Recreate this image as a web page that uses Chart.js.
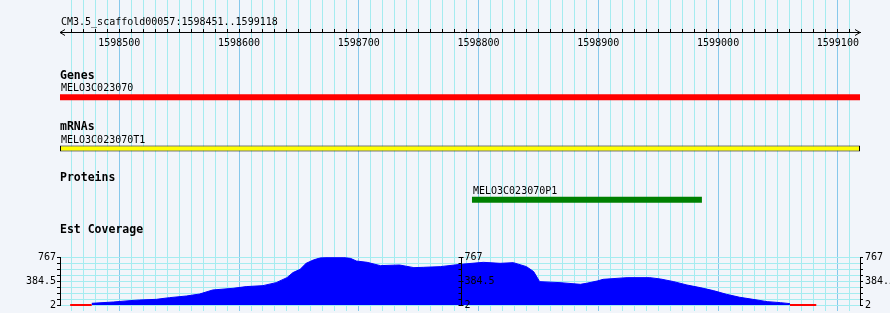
<!DOCTYPE html>
<html>

<head>
  <meta charset="UTF-8">
  <script src="https://cdn.jsdelivr.net/npm/chart.js"></script>
  <title>MELO3C023070</title>
  <style>
    body { margin: 0; background: rgb(242, 245, 250); }
    canvas { display: block; }
  </style>
</head>

<body>
  <canvas id="browser" width="890" height="313"></canvas>
  <script>
    // region shown
    const refName = 'CM3.5_scaffold00057';
    const regionStart = 1598451;
    const regionEnd = 1599118;

    // tracks
    const trackTitles = ['Genes', 'mRNAs', 'Proteins', 'Est Coverage'];
    const featureNames = ['MELO3C023070', 'MELO3C023070T1', 'MELO3C023070P1'];
    const featureStarts = [1598451, 1598451, 1598795];
    const featureEnds = [1599118, 1599118, 1598986];
    const featureColors = ['#ff0000', '#ffff00', '#008000'];

    // est coverage
    const covPos = [1598477, 1598495, 1598509, 1598517, 1598531, 1598542, 1598556, 1598567, 1598578, 1598595,
      1598606, 1598620, 1598631, 1598640, 1598645, 1598651, 1598656, 1598662, 1598668, 1598676,
      1598687, 1598693, 1598698, 1598707, 1598718, 1598734, 1598746, 1598754, 1598768, 1598785,
      1598804, 1598818, 1598829, 1598840, 1598846, 1598851, 1598868, 1598885, 1598890, 1598899,
      1598904, 1598924, 1598943, 1598952, 1598963, 1598974, 1598985, 1598996, 1599007, 1599018,
      1599029, 1599041, 1599052, 1599060];
    const covVal = [29, 50, 72, 82, 93, 120, 146, 178, 243, 270,
      297, 313, 361, 441, 522, 575, 671, 724, 760, 767,
      767, 751, 708, 687, 634, 644, 602, 607, 618, 655,
      687, 671, 682, 618, 538, 377, 361, 334, 350, 387,
      414, 441, 441, 419, 377, 323, 281, 233, 174, 126,
      93, 56, 40, 24];
    // stretches with zero coverage (start, end)
    const zeroStarts = [1598459, 1599060];
    const zeroEnds = [1598477, 1599082];

    const covTicks = [2, 97.625, 193.25, 288.875, 384.5, 480.125, 575.75, 671.375, 767];
    const covTickLabels = [2, 384.5, 767];
    const midAxisPos = 1598785;

    const minorGrid = 'rgb(165, 236, 240)';
    const majorGrid = 'rgb(135, 200, 235)';
    const mono = 'DejaVu Sans Mono';

    Chart.defaults.font.family = mono;
    Chart.defaults.font.size = 10;
    Chart.defaults.color = '#000';

    const gridColor = ctx => (ctx.tick && ctx.tick.value % 100 === 0) ? majorGrid : minorGrid;
    const covLabel = v => covTickLabels.includes(v) ? String(v) : '';
    const setCovTicks = s => { s.ticks = covTicks.map(v => ({ value: v })); };

    const zeroData = [];
    zeroStarts.forEach((s, i) => {
      zeroData.push({ x: s, y: 2 }, { x: zeroEnds[i], y: 2 }, { x: zeroEnds[i] + 1, y: null });
    });

    // labels, ruler arrows and the extra coverage axis in the middle
    const extras = {
      id: 'extras',
      afterDatasetsDraw(chart) {
        const { ctx, scales: { x, yTrack, yCov } } = chart;
        ctx.save();
        ctx.fillStyle = '#000';
        ctx.textBaseline = 'alphabetic';
        ctx.textAlign = 'left';
        ctx.font = '10px "' + mono + '"';
        ctx.fillText(refName + ':' + regionStart + '..' + regionEnd, x.left + 1, 25);

        // arrows at both ends of the ruler
        const ry = x.bottom + 0.5;
        ctx.strokeStyle = '#000';
        ctx.lineWidth = 1;
        ctx.beginPath();
        ctx.moveTo(x.left + 5, ry - 3); ctx.lineTo(x.left, ry); ctx.lineTo(x.left + 5, ry + 3);
        ctx.moveTo(x.right - 5, ry - 3); ctx.lineTo(x.right, ry); ctx.lineTo(x.right - 5, ry + 3);
        ctx.stroke();

        trackTitles.forEach((t, i) => {
          ctx.font = 'bold 11.5px "' + mono + '"';
          ctx.fillText(t, x.left, yTrack.getPixelForValue(i + 1) - 18.3);
        });
        featureNames.forEach((n, i) => {
          ctx.font = '10px "' + mono + '"';
          ctx.fillText(n, x.getPixelForValue(featureStarts[i] - 0.5) + 1, yTrack.getPixelForValue(i + 1) - 6);
        });

        // middle coverage axis
        const px = Math.round(x.getPixelForValue(midAxisPos)) + 0.5;
        ctx.beginPath();
        ctx.moveTo(px, Math.round(yCov.getPixelForValue(767)) + 0.5);
        ctx.lineTo(px, Math.round(yCov.getPixelForValue(2)) + 0.5);
        covTicks.forEach(v => {
          const py = Math.round(yCov.getPixelForValue(v)) + 0.5;
          const major = covTickLabels.includes(v);
          ctx.moveTo(px - 3, py);
          ctx.lineTo(px + (major ? 2 : 0), py);
        });
        ctx.stroke();
        ctx.font = '10px "' + mono + '"';
        ctx.textBaseline = 'middle';
        covTickLabels.forEach(v => {
          ctx.fillText(String(v), px + 3, yCov.getPixelForValue(v));
        });
        ctx.restore();
      }
    };

    const ctx = document.getElementById('browser').getContext('2d');
    const chart = new Chart(ctx, {
      type: 'line',
      data: {
        datasets: [
          ...featureNames.map((n, i) => ({
            type: 'bar',
            label: n,
            indexAxis: 'y',
            data: [{ x: [featureStarts[i] - 0.5, featureEnds[i] + 0.5], y: i + 1 }],
            backgroundColor: featureColors[i],
            borderColor: '#000',
            borderWidth: i === 1 ? 1 : 0,
            borderSkipped: false,
            grouped: false,
            maxBarThickness: 6,
            xAxisID: 'x',
            yAxisID: 'yTrack'
          })),
          {
            label: 'Est Coverage',
            data: covPos.map((p, i) => ({ x: p, y: covVal[i] })),
            borderColor: '#0000ff',
            backgroundColor: '#0000ff',
            borderWidth: 1,
            fill: 'start',
            pointRadius: 0,
            tension: 0,
            xAxisID: 'x',
            yAxisID: 'yCov'
          },
          {
            label: 'no coverage',
            data: zeroData,
            borderColor: '#ff0000',
            borderWidth: 2,
            pointRadius: 0,
            spanGaps: false,
            fill: false,
            clip: 3,
            xAxisID: 'x',
            yAxisID: 'yCov'
          }
        ]
      },
      options: {
        responsive: false,
        animation: false,
        layout: { padding: 0 },
        plugins: {
          legend: { display: false },
          tooltip: { enabled: false }
        },
        scales: {
          xGrid: {
            type: 'linear', position: 'top', weight: 2,
            min: regionStart - 0.5, max: regionEnd + 0.5,
            ticks: { display: false, stepSize: 10, includeBounds: false, autoSkip: false },
            grid: { drawOnChartArea: false, tickLength: 29, color: gridColor },
            border: { display: false }
          },
          x: {
            type: 'linear', position: 'top', weight: 1,
            min: regionStart - 0.5, max: regionEnd + 0.5,
            afterFit: s => { s.height = 3; },
            ticks: {
              stepSize: 10, includeBounds: false, autoSkip: false, maxRotation: 0,
              mirror: true, padding: 5, color: '#000',
              callback: v => v % 100 === 0 ? String(v) : ''
            },
            grid: { color: gridColor, tickLength: 3, tickColor: '#000' },
            border: { color: '#000' }
          },
          xBot: {
            type: 'linear', position: 'bottom',
            min: regionStart - 0.5, max: regionEnd + 0.5,
            ticks: { display: false, stepSize: 10, includeBounds: false, autoSkip: false },
            grid: { drawOnChartArea: false, tickLength: 6, color: gridColor },
            border: { display: false }
          },
          yTrack: {
            type: 'linear', position: 'left', stack: 'left', stackWeight: 227, weight: 2,
            reverse: true, min: -0.275, max: 4.125, offset: false,
            ticks: { stepSize: 1 },
            grid: { offset: false },
            display: false
          },
          yCov: {
            type: 'linear', position: 'left', stack: 'left', stackWeight: 48, weight: 1,
            min: 2, max: 767,
            afterFit: s => { s.width = 60; },
            afterBuildTicks: setCovTicks,
            ticks: { padding: 1, color: '#000', autoSkip: false, callback: covLabel },
            grid: { color: minorGrid, tickLength: 3, tickColor: '#000' },
            border: { color: '#000' }
          },
          yPadR: {
            type: 'linear', position: 'right', stack: 'right', stackWeight: 227, weight: 1,
            display: false
          },
          yCovR: {
            type: 'linear', position: 'right', stack: 'right', stackWeight: 48, weight: 2,
            min: 2, max: 767,
            afterFit: s => { s.width = 30; },
            afterBuildTicks: setCovTicks,
            ticks: { padding: 2, color: '#000', autoSkip: false, callback: covLabel },
            grid: { drawOnChartArea: false, tickLength: 3, tickColor: '#000' },
            border: { color: '#000' }
          }
        }
      },
      plugins: [extras]
    });
  </script>
</body>

</html>
